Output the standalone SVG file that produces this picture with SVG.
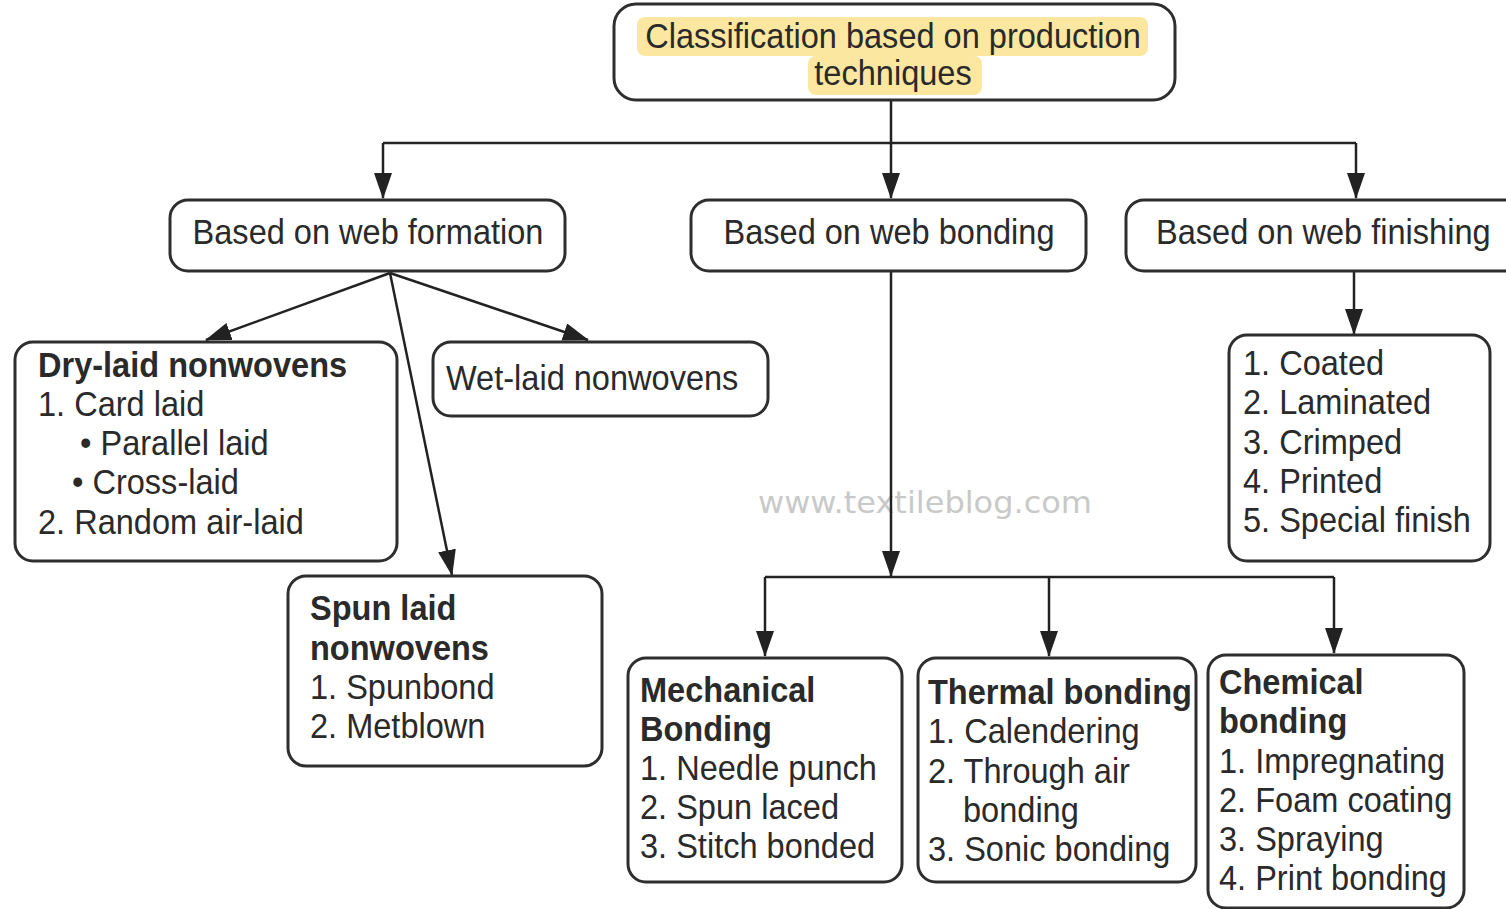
<svg xmlns="http://www.w3.org/2000/svg" width="1506" height="909" viewBox="0 0 1506 909">
<style>
.box{fill:#fff;stroke:#2e2e2e;stroke-width:3}
.t{font-family:"Liberation Sans",Arial,sans-serif;font-size:35px;fill:#2a2a2a}
.b{font-weight:bold}
.c{text-anchor:middle}
.ln{fill:none;stroke:#222;stroke-width:2.5}
.hl{fill:#fce7a0}
.wm{font-family:"DejaVu Sans",sans-serif;font-size:31px;fill:#c9c9c9}
</style>
<defs>
<marker id="ah" markerUnits="userSpaceOnUse" markerWidth="26" markerHeight="18" refX="25" refY="9" orient="auto">
<path d="M0,0 L26,9 L0,18 z" fill="#222"/>
</marker>
</defs>
<rect width="1506" height="909" fill="#fff"/>
<text class="wm" x="758" y="513" textLength="334" lengthAdjust="spacingAndGlyphs">www.textileblog.com</text>

<g id="connectors">
<path class="ln" d="M891,100 V143"/>
<path class="ln" d="M383,143 H1356"/>
<path class="ln" d="M383,143 V198" marker-end="url(#ah)"/>
<path class="ln" d="M891,143 V198" marker-end="url(#ah)"/>
<path class="ln" d="M1356,143 V198" marker-end="url(#ah)"/>
<path class="ln" d="M390,273 L206,340" marker-end="url(#ah)"/>
<path class="ln" d="M390,273 L588,340" marker-end="url(#ah)"/>
<path class="ln" d="M390,273 L452,575" marker-end="url(#ah)"/>
<path class="ln" d="M891,271 V576" marker-end="url(#ah)"/>
<path class="ln" d="M765,577 H1334"/>
<path class="ln" d="M765,577 V656" marker-end="url(#ah)"/>
<path class="ln" d="M1049,577 V656" marker-end="url(#ah)"/>
<path class="ln" d="M1334,577 V653" marker-end="url(#ah)"/>
<path class="ln" d="M1354,271 V334" marker-end="url(#ah)"/>
</g>

<g id="root">
<rect class="box" x="614" y="4" width="561" height="96" rx="22"/>
<rect class="hl" x="637" y="17" width="511" height="39" rx="8"/>
<rect class="hl" x="808" y="56" width="174" height="39" rx="8"/>
<text class="t c" transform="translate(893,48) scale(0.93,1)">Classification based on production</text>
<text class="t c" transform="translate(893,85) scale(0.93,1)">techniques</text>
</g>

<g id="web-formation">
<rect class="box" x="170" y="200" width="395" height="71" rx="18"/>
<text class="t c" transform="translate(368,244) scale(0.93,1)">Based on web formation</text>
</g>

<g id="web-bonding">
<rect class="box" x="691" y="200" width="395" height="71" rx="18"/>
<text class="t c" transform="translate(889,244) scale(0.93,1)">Based on web bonding</text>
</g>

<g id="web-finishing">
<rect class="box" x="1126" y="200" width="420" height="71" rx="18"/>
<text class="t" transform="translate(1156,244) scale(0.93,1)">Based on web finishing</text>
</g>

<g id="dry-laid">
<rect class="box" x="15" y="342" width="382" height="219" rx="18"/>
<text class="t b" transform="translate(38,377) scale(0.93,1)">Dry-laid nonwovens</text>
<text class="t" transform="translate(38,416) scale(0.93,1)">1. Card laid</text>
<text class="t" transform="translate(80,455) scale(0.93,1)">• Parallel laid</text>
<text class="t" transform="translate(72,494) scale(0.93,1)">• Cross-laid</text>
<text class="t" transform="translate(38,534) scale(0.93,1)">2. Random air-laid</text>
</g>

<g id="wet-laid">
<rect class="box" x="433" y="342" width="335" height="74" rx="18"/>
<text class="t" transform="translate(446,390) scale(0.93,1)">Wet-laid nonwovens</text>
</g>

<g id="spun-laid">
<rect class="box" x="288" y="576" width="314" height="190" rx="18"/>
<text class="t b" transform="translate(310,620) scale(0.93,1)">Spun laid</text>
<text class="t b" transform="translate(310,660) scale(0.93,1)">nonwovens</text>
<text class="t" transform="translate(310,699) scale(0.93,1)">1. Spunbond</text>
<text class="t" transform="translate(310,738) scale(0.93,1)">2. Metblown</text>
</g>

<g id="finishing-list">
<rect class="box" x="1229" y="335" width="261" height="226" rx="18"/>
<text class="t" transform="translate(1243,375) scale(0.93,1)">1. Coated</text>
<text class="t" transform="translate(1243,414) scale(0.93,1)">2. Laminated</text>
<text class="t" transform="translate(1243,454) scale(0.93,1)">3. Crimped</text>
<text class="t" transform="translate(1243,493) scale(0.93,1)">4. Printed</text>
<text class="t" transform="translate(1243,532) scale(0.93,1)">5. Special finish</text>
</g>

<g id="mechanical">
<rect class="box" x="628" y="658" width="274" height="224" rx="18"/>
<text class="t b" transform="translate(640,702) scale(0.93,1)">Mechanical</text>
<text class="t b" transform="translate(640,741) scale(0.93,1)">Bonding</text>
<text class="t" transform="translate(640,780) scale(0.93,1)">1. Needle punch</text>
<text class="t" transform="translate(640,819) scale(0.93,1)">2. Spun laced</text>
<text class="t" transform="translate(640,858) scale(0.93,1)">3. Stitch bonded</text>
</g>

<g id="thermal">
<rect class="box" x="918" y="658" width="278" height="224" rx="18"/>
<text class="t b" transform="translate(928,704) scale(0.93,1)">Thermal bonding</text>
<text class="t" transform="translate(928,743) scale(0.93,1)">1. Calendering</text>
<text class="t" transform="translate(928,783) scale(0.93,1)">2. Through air</text>
<text class="t" transform="translate(963,822) scale(0.93,1)">bonding</text>
<text class="t" transform="translate(928,861) scale(0.93,1)">3. Sonic bonding</text>
</g>

<g id="chemical">
<rect class="box" x="1208" y="655" width="256" height="253" rx="18"/>
<text class="t b" transform="translate(1219,694) scale(0.93,1)">Chemical</text>
<text class="t b" transform="translate(1219,733) scale(0.93,1)">bonding</text>
<text class="t" transform="translate(1219,773) scale(0.93,1)">1. Impregnating</text>
<text class="t" transform="translate(1219,812) scale(0.93,1)">2. Foam coating</text>
<text class="t" transform="translate(1219,851) scale(0.93,1)">3. Spraying</text>
<text class="t" transform="translate(1219,890) scale(0.93,1)">4. Print bonding</text>
</g>
</svg>
